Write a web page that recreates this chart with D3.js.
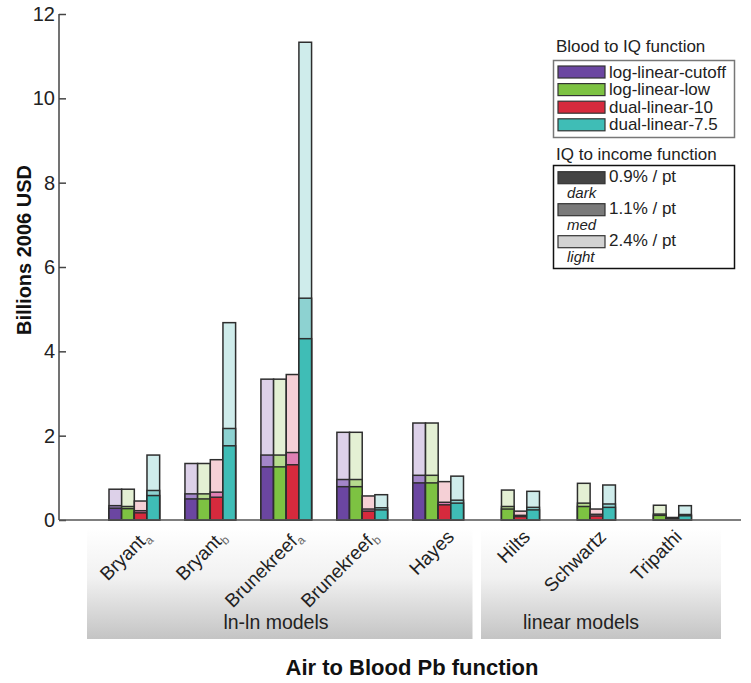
<!DOCTYPE html>
<html><head><meta charset="utf-8">
<script src="https://cdn.jsdelivr.net/npm/d3@7"></script>
<style>body{margin:0;background:#fff}svg{display:block}text{font-family:"Liberation Sans",Arial,Helvetica,sans-serif}</style>
</head><body><svg id="c" width="751" height="683"></svg>
<script>
const categories = ["Bryant","Bryant","Brunekreef","Brunekreef","Hayes","Hilts","Schwartz","Tripathi"];
const subscripts = ["a","b","a","b","","","",""];
const bloodFunctions = ["log-linear-cutoff","log-linear-low","dual-linear-10","dual-linear-7.5"];
const incomeFunctions = ["0.9% / pt","1.1% / pt","2.4% / pt"];
const incomeShades = ["dark","med","light"];
const groupNames = ["ln-ln models","linear models"];
const yTicks = [0,2,4,6,8,10,12];

// values: [dark 0.9%, med 1.1%, light 2.4%] per blood function
const cutoffDark  = [0.28,0.50,1.26,0.79,0.88,0,0,0];
const cutoffMed   = [0.34,0.62,1.54,0.96,1.06,0,0,0];
const cutoffLight = [0.73,1.34,3.34,2.08,2.30,0,0,0];
const lowDark  = [0.27,0.50,1.26,0.79,0.88,0.26,0.32,0.11];
const lowMed   = [0.32,0.62,1.54,0.96,1.06,0.32,0.40,0.14];
const lowLight = [0.73,1.34,3.34,2.08,2.30,0.71,0.87,0.35];
const d10Dark  = [0.17,0.54,1.31,0.21,0.36,0.08,0.095,0.03];
const d10Med   = [0.22,0.66,1.60,0.26,0.42,0.11,0.135,0.045];
const d10Light = [0.45,1.43,3.45,0.57,0.91,0.21,0.26,0.06];
const d75Dark  = [0.58,1.76,4.30,0.24,0.40,0.24,0.30,0.10];
const d75Med   = [0.70,2.17,5.26,0.29,0.47,0.30,0.38,0.13];
const d75Light = [1.54,4.68,11.33,0.60,1.04,0.68,0.83,0.34];

const series = [
  {dark:cutoffDark, med:cutoffMed, light:cutoffLight},
  {dark:lowDark, med:lowMed, light:lowLight},
  {dark:d10Dark, med:d10Med, light:d10Light},
  {dark:d75Dark, med:d75Med, light:d75Light}
];
const colors = [
  {dark:"#6b46a1", med:"#a386c9", light:"#ddd1e9"},
  {dark:"#7dc242", med:"#b6db8e", light:"#e4f0d4"},
  {dark:"#d62a3d", med:"#df80b3", light:"#f5d0d6"},
  {dark:"#3fbdb6", med:"#8dd2d1", light:"#cfeceb"}
];
const greys = ["#444444","#7a7a7a","#d2d2d2"];

const svg = d3.select("#c");
const y = d3.scaleLinear().domain([0,12]).range([520,14]);
const x = d3.scaleBand().domain(d3.range(categories.length)).range([109,691.4]).paddingInner(1/3).paddingOuter(0);
const xs = d3.scaleBand().domain(d3.range(4)).range([0,x.bandwidth()]).padding(0);

// group panels with gradient
const defs = svg.append("defs");
const grad = defs.append("linearGradient").attr("id","pg").attr("x1",0).attr("y1",0).attr("x2",0).attr("y2",1);
grad.append("stop").attr("offset","0%").attr("stop-color","#ffffff");
grad.append("stop").attr("offset","45%").attr("stop-color","#f1f1f1");
grad.append("stop").attr("offset","100%").attr("stop-color","#c4c4c4");
const panels = [{x0:87,x1:472.5,lx:276},{x0:481,x1:721,lx:581}];
panels.forEach((p,i)=>{
  svg.append("rect").attr("x",p.x0).attr("y",528).attr("width",p.x1-p.x0).attr("height",111).attr("fill","url(#pg)");
  svg.append("text").attr("x",p.lx).attr("y",629).attr("text-anchor","middle")
    .attr("font-size",19.5).attr("fill","#222").text(groupNames[i]);
});

// bars
const levels = ["light","med","dark"];
series.forEach((s,si)=>{
  levels.forEach(lv=>{
    svg.append("g").selectAll("rect").data(s[lv].map((v,i)=>({v,i})).filter(d=>d.v>0)).join("rect")
      .attr("x",d=>x(d.i)+xs(si)).attr("width",xs.bandwidth())
      .attr("y",d=>y(d.v)).attr("height",d=>y(0)-y(d.v))
      .attr("fill",colors[si][lv]).attr("stroke","#2e2e2e").attr("stroke-width",1.5);
  });
});

// axes
const yAxis = d3.axisLeft(y).tickValues(yTicks).tickSize(-7).tickPadding(5);
const ga = svg.append("g").attr("transform","translate(59,0)").call(yAxis);
ga.select(".domain").attr("stroke","#444").attr("stroke-width",1.5).attr("d","M0,14V520");
ga.selectAll(".tick line").attr("stroke","#444").attr("stroke-width",1.5);
ga.selectAll(".tick text").attr("font-size",20).attr("fill","#222").attr("x",-4).attr("font-family","Liberation Sans, Arial, sans-serif");
svg.append("line").attr("x1",59).attr("x2",741).attr("y1",520).attr("y2",520).attr("stroke","#555").attr("stroke-width",1.5);

// x labels
categories.forEach((c,i)=>{
  const cx = x(i)+x.bandwidth()/2;
  const t = svg.append("text").attr("transform",`translate(${cx+17},538) rotate(-45)`)
    .attr("text-anchor","end").attr("font-size",19).attr("fill","#222");
  t.append("tspan").text(c);
  if(subscripts[i]) t.append("tspan").attr("dy",4).attr("font-size",12).attr("fill","#666").text(subscripts[i]);
});

// axis titles
svg.append("text").attr("transform","translate(31,250) rotate(-90)").attr("text-anchor","middle")
  .attr("font-size",20).attr("font-weight","bold").attr("fill","#111").text("Billions 2006 USD");
svg.append("text").attr("x",412).attr("y",675).attr("text-anchor","middle")
  .attr("font-size",22).attr("font-weight","bold").attr("fill","#111").text("Air to Blood Pb function");

// legend 1
svg.append("text").attr("x",556).attr("y",52).attr("font-size",17).attr("fill","#222").text("Blood to IQ function");
svg.append("rect").attr("x",553.5).attr("y",60.5).attr("width",181).attr("height",77).attr("fill","#fff").attr("stroke","#777").attr("stroke-width",1.5);
bloodFunctions.forEach((b,i)=>{
  const yy = 66+i*17.6;
  svg.append("rect").attr("x",558).attr("y",yy).attr("width",47).attr("height",12).attr("fill",colors[i].dark).attr("stroke","#333").attr("stroke-width",1.2);
  svg.append("text").attr("x",609).attr("y",yy+11.5).attr("font-size",17).attr("fill","#222").text(b);
});
// legend 2
svg.append("text").attr("x",556).attr("y",160).attr("font-size",17).attr("fill","#222").text("IQ to income function");
svg.append("rect").attr("x",553.5).attr("y",165.5).attr("width",181).attr("height",103).attr("fill","#fff").attr("stroke","#111").attr("stroke-width",1.5);
incomeFunctions.forEach((f,i)=>{
  const yy = 171.7+i*32;
  svg.append("rect").attr("x",558).attr("y",yy).attr("width",47).attr("height",12).attr("fill",greys[i]).attr("stroke","#333").attr("stroke-width",1.2);
  svg.append("text").attr("x",609).attr("y",yy+10.5).attr("font-size",17).attr("fill","#222").text(f);
  svg.append("text").attr("x",567).attr("y",yy+26).attr("font-size",15).attr("font-style","italic").attr("fill","#222").text(incomeShades[i]);
});
</script></body></html>
